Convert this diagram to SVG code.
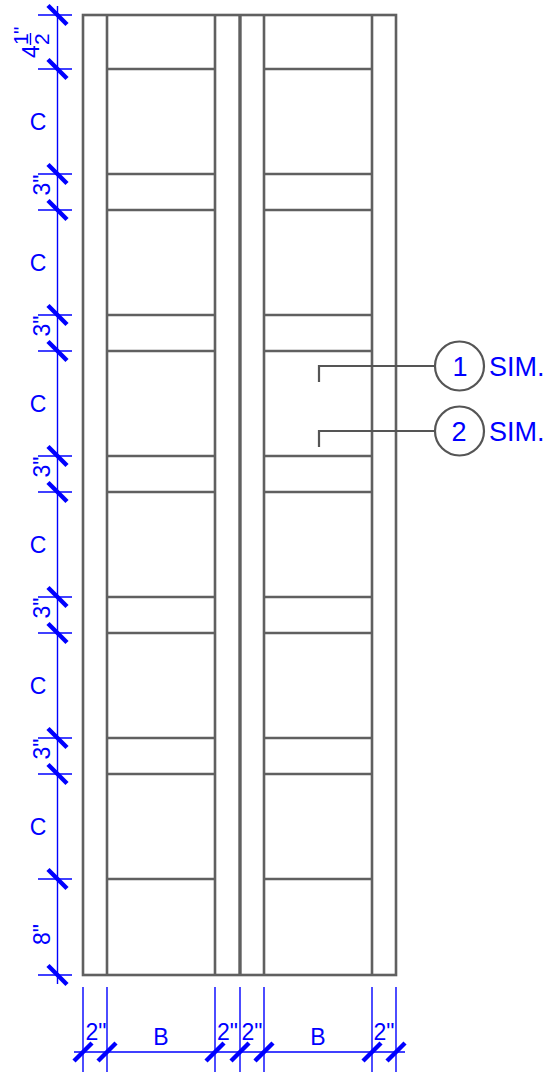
<svg xmlns="http://www.w3.org/2000/svg" width="546" height="1073" viewBox="0 0 546 1073">
<style>
.w{fill:none;stroke:#606060;stroke-width:2.6}
.x{stroke-width:3.4}
.l{fill:none;stroke:#555;stroke-width:2.2}
.d{fill:none;stroke:#0000ff;stroke-width:1.4}
.t{fill:none;stroke:#0000ff;stroke-width:4.500}
text{font-family:"Liberation Sans",Arial,sans-serif;fill:#0000ff;font-size:23px}
.c{text-anchor:middle}
.s{font-size:27px}
.f{font-size:21px}
</style>
<defs>
<path id="tv" class="t" d="M-9.500-9.500L9.500 9.500"/>
<path id="tb" class="t" d="M-9 9L9-9"/>
<path id="ev" class="d" d="M-19.500 0H14.500"/>
<path id="eh" class="d" d="M0-65V20"/>
</defs>
<g id="frame" class="w">
<rect x="83" y="15" width="313" height="960"/>
<path d="M107 15V975M215 15V975M264 15V975M372 15V975"/>
<path class="x" d="M240 15V975"/>
<path d="M107 69H215M107 174H215M107 210H215M107 315H215M107 351H215M107 456H215M107 492H215M107 597H215M107 633H215M107 738H215M107 774H215M107 879H215"/>
<path d="M264 69H372M264 174H372M264 210H372M264 315H372M264 351H372M264 456H372M264 492H372M264 597H372M264 633H372M264 738H372M264 774H372M264 879H372"/>
</g>
<g id="connectors">
<path class="l" d="M319 382V366H435"/>
<path class="l" d="M319 447V431H435"/>
</g>
<g id="callout-1">
<circle class="l" cx="459.500" cy="366" r="24.500" fill="#fff"/>
<text class="c s" x="460" y="376">1</text>
<text class="s" x="489" y="376">SIM.</text>
</g>
<g id="callout-2">
<circle class="l" cx="459.500" cy="431" r="24.500" fill="#fff"/>
<text class="c s" x="459" y="441">2</text>
<text class="s" x="489" y="441">SIM.</text>
</g>
<g id="dimension-vertical">
<path class="d" d="M57.500 6V984"/>
<use href="#ev" x="57.500" y="15"/><use href="#tv" x="57.500" y="15"/>
<use href="#ev" x="57.500" y="69"/><use href="#tv" x="57.500" y="69"/>
<use href="#ev" x="57.500" y="174"/><use href="#tv" x="57.500" y="174"/>
<use href="#ev" x="57.500" y="210"/><use href="#tv" x="57.500" y="210"/>
<use href="#ev" x="57.500" y="315"/><use href="#tv" x="57.500" y="315"/>
<use href="#ev" x="57.500" y="351"/><use href="#tv" x="57.500" y="351"/>
<use href="#ev" x="57.500" y="456"/><use href="#tv" x="57.500" y="456"/>
<use href="#ev" x="57.500" y="492"/><use href="#tv" x="57.500" y="492"/>
<use href="#ev" x="57.500" y="597"/><use href="#tv" x="57.500" y="597"/>
<use href="#ev" x="57.500" y="633"/><use href="#tv" x="57.500" y="633"/>
<use href="#ev" x="57.500" y="738"/><use href="#tv" x="57.500" y="738"/>
<use href="#ev" x="57.500" y="774"/><use href="#tv" x="57.500" y="774"/>
<use href="#ev" x="57.500" y="879"/><use href="#tv" x="57.500" y="879"/>
<use href="#ev" x="57.500" y="975"/><use href="#tv" x="57.500" y="975"/>
<text class="c" x="38" y="130">C</text>
<text class="c" x="38" y="271">C</text>
<text class="c" x="38" y="412">C</text>
<text class="c" x="38" y="553">C</text>
<text class="c" x="38" y="694">C</text>
<text class="c" x="38" y="835">C</text>
<text class="c" transform="translate(50 185) rotate(-90)">3"</text>
<text class="c" transform="translate(50 326) rotate(-90)">3"</text>
<text class="c" transform="translate(50 467) rotate(-90)">3"</text>
<text class="c" transform="translate(50 608) rotate(-90)">3"</text>
<text class="c" transform="translate(50 749) rotate(-90)">3"</text>
<text class="c" transform="translate(50 934.500) rotate(-90)">8"</text>
<text transform="translate(39 58) rotate(-90)">4</text>
<text class="f" transform="translate(28 45) rotate(-90)">1</text>
<text class="f" transform="translate(49 45) rotate(-90)">2</text>
<text class="f" transform="translate(28 34) rotate(-90)">"</text>
<path class="d" d="M30.500 33V45"/>
</g>
<g id="dimension-horizontal">
<path class="d" d="M74 1052H405"/>
<use href="#eh" x="83" y="1052"/><use href="#tb" x="83" y="1052"/>
<use href="#eh" x="107" y="1052"/><use href="#tb" x="107" y="1052"/>
<use href="#eh" x="215" y="1052"/><use href="#tb" x="215" y="1052"/>
<use href="#eh" x="240" y="1052"/><use href="#tb" x="240" y="1052"/>
<use href="#eh" x="264" y="1052"/><use href="#tb" x="264" y="1052"/>
<use href="#eh" x="372" y="1052"/><use href="#tb" x="372" y="1052"/>
<use href="#eh" x="396" y="1052"/><use href="#tb" x="396" y="1052"/>
<text class="c" x="96" y="1040">2"</text>
<text class="c" x="161" y="1045">B</text>
<text class="c" x="227.500" y="1040">2"</text>
<text class="c" x="252" y="1040">2"</text>
<text class="c" x="318" y="1045">B</text>
<text class="c" x="384" y="1040">2"</text>
</g>
</svg>
